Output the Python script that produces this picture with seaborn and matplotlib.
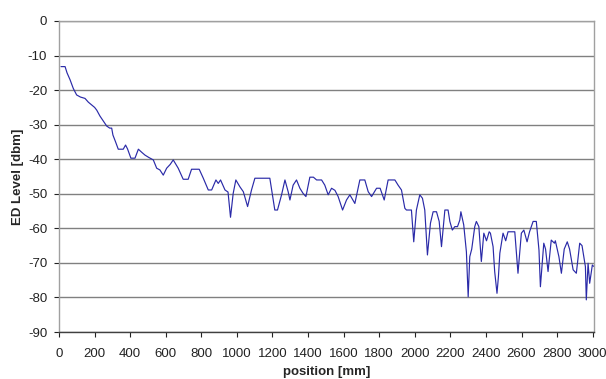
import numpy as np
import pandas as pd
import matplotlib
matplotlib.use("Agg")
import matplotlib.pyplot as plt
import seaborn as sns

### DATA ###
position_mm = [
    11, 34, 45, 62, 80, 99, 120, 146, 165, 184, 200, 212, 230, 250, 268, 285, 296, 303, 318, 333,
    361, 374, 385, 404, 427, 446, 465, 483, 505, 530, 549, 567, 586, 605, 625, 642, 670, 698, 726, 745,
    788, 811, 839, 858, 882, 895, 908, 933, 950, 964, 979, 994, 1017, 1036, 1060, 1082, 1101, 1185, 1204, 1213,
    1228, 1251, 1270, 1288, 1298, 1316, 1335, 1354, 1372, 1388, 1410, 1430, 1448, 1476, 1494, 1513, 1532, 1551, 1569, 1594,
    1616, 1635, 1663, 1691, 1719, 1738, 1757, 1785, 1805, 1828, 1850, 1888, 1906, 1925, 1944, 1953, 1981, 1994, 2009, 2028,
    2043, 2056, 2071, 2088, 2103, 2122, 2137, 2150, 2169, 2187, 2197, 2211, 2225, 2240, 2253, 2259, 2275, 2290, 2300, 2309,
    2320, 2337, 2346, 2360, 2374, 2388, 2403, 2418, 2425, 2440, 2449, 2462, 2470, 2478, 2496, 2511, 2524, 2562, 2580, 2599,
    2613, 2631, 2645, 2665, 2683, 2698, 2706, 2725, 2735, 2749, 2767, 2785, 2790, 2810, 2824, 2840, 2857, 2870, 2890, 2908,
    2927, 2940, 2959, 2964, 2974, 2983, 2998, 3005,
]
ed_level_dbm = [
    -13.2, -13.2, -15, -17, -19.5, -21.4, -22, -22.4, -23.5, -24.3, -25, -25.8, -27.5, -29, -30.4, -31, -31, -33, -35, -37.1,
    -37.1, -35.9, -37, -39.7, -39.7, -37.1, -38, -38.8, -39.5, -40.2, -42.6, -43.1, -44.6, -42.6, -41.5, -40.2, -42.6, -45.8, -45.8, -42.9,
    -42.9, -45.5, -48.9, -48.9, -46, -47, -46, -48.9, -49.5, -56.8, -49.9, -46, -48, -49.4, -53.7, -48.9, -45.5, -45.5, -51.8, -54.7,
    -54.7, -50.3, -46, -49.4, -51.8, -47.5, -46, -48.4, -49.9, -50.8, -45.2, -45.2, -46, -46, -47.5, -50.3, -48.4, -49, -50.8, -54.7,
    -51.8, -50.3, -52.8, -46, -46, -49.4, -50.8, -48.4, -48.4, -51.8, -46, -46, -47.5, -48.9, -54.2, -54.7, -54.7, -63.9, -54.7, -50.3,
    -51.3, -54.7, -67.7, -58.5, -55.2, -55.2, -58, -65.3, -54.7, -54.7, -58, -60.5, -59.5, -59.5, -57.6, -55.2, -59, -66.8, -79.8, -68.2,
    -66, -59.5, -58, -59.5, -69.6, -61.4, -63.6, -61, -61.4, -65.3, -72.5, -78.8, -74, -67.2, -61.4, -63.6, -61, -61, -73, -61.4,
    -60.5, -63.9, -61, -58, -58, -66.3, -76.9, -64.3, -66, -72.5, -63.4, -64.3, -63.6, -68.2, -73, -66, -63.9, -66, -72, -73,
    -64.3, -65, -71.1, -80.7, -70.1, -75.9, -70.6, -71,
]
x_ticks = list(range(0, 3001, 200))
y_ticks = list(range(-90, 1, 10))

df = pd.DataFrame({"position [mm]": position_mm, "ED Level [dbm]": ed_level_dbm})

### PLOT ###
sns.set_style("white")
plt.rcParams['font.family'] = ['Liberation Sans', 'DejaVu Sans']
plt.rcParams['axes.unicode_minus'] = False   # reference uses plain hyphens

fig = plt.figure(figsize=(6.06, 3.79), dpi=100)
ax = fig.add_axes([0.0974, 0.124, 0.883, 0.8206])

sns.lineplot(data=df, x="position [mm]", y="ED Level [dbm]", sort=False, estimator=None,
             color="#2a2aa8", linewidth=0.85, ax=ax)

ax.set_xlim(0, 3008)
ax.set_ylim(-90, 0)
ax.set_xticks(x_ticks)
ax.set_yticks(y_ticks)
ax.tick_params(axis="both", labelsize=9.5, colors="#222222", length=3.5, width=0.8,
               direction="out", left=True, bottom=True)
ax.tick_params(axis="x", pad=8)
ax.tick_params(axis="y", pad=5)
for t in ax.get_xticklines() + ax.get_yticklines():
    t.set_color("#808080")

ax.yaxis.grid(True, color="#808080", linewidth=1)
ax.xaxis.grid(False)
ax.set_axisbelow(True)

for side in ["left", "right", "top"]:
    ax.spines[side].set_color("#a0a0a0")
    ax.spines[side].set_linewidth(1)
ax.spines["bottom"].set_color("#404040")
ax.spines["bottom"].set_linewidth(1)

ax.set_xlabel("position [mm]", fontsize=9.5, fontweight="bold", labelpad=4)
ax.set_ylabel("ED Level [dbm]", fontsize=9.5, fontweight="bold", labelpad=3)

plt.savefig("out.png", dpi=100)
